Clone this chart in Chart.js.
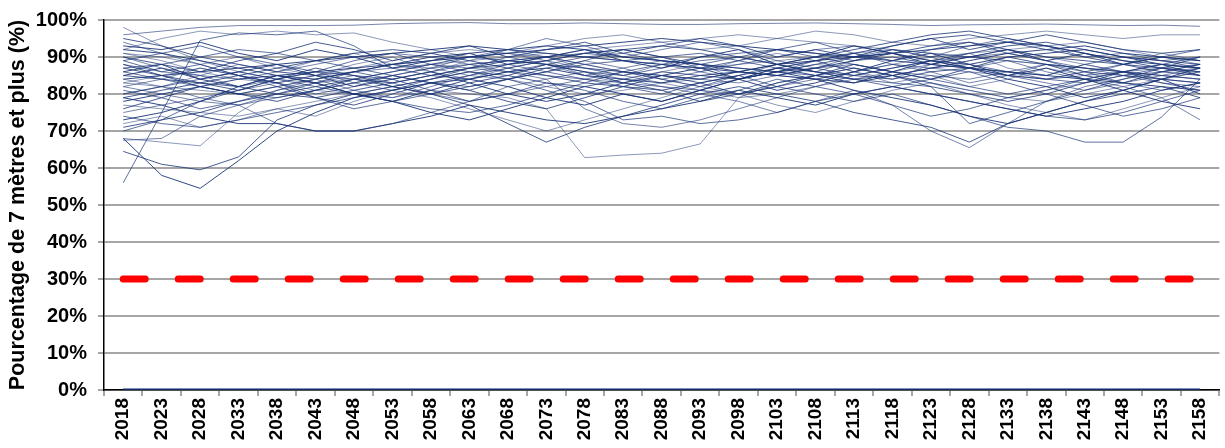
<!DOCTYPE html>
<html>
<head>
<meta charset="utf-8">
<script src="https://cdn.jsdelivr.net/npm/chart.js@4/dist/chart.umd.min.js"></script>
<style>
    html, body{margin:0; padding:0; background:#fff; overflow:hidden;}
    #box{width:1225px; height:450px; position:relative; top:-3px;}
</style>
</head>
<body>
<div id="box"><canvas id="myChart"></canvas></div>
<script>
// annees (pas de 5 ans)
var years = ['2018','2023','2028','2033','2038','2043','2048','2053','2058','2063','2068','2073','2078','2083','2088','2093','2098','2103','2108','2113','2118','2123','2128','2133','2138','2143','2148','2153','2158'];

// seuil 30 % et serie a zero
var seuil = [30,30,30,30,30,30,30,30,30,30,30,30,30,30,30,30,30,30,30,30,30,30,30,30,30,30,30,30,30];
var zero = [0,0,0,0,0,0,0,0,0,0,0,0,0,0,0,0,0,0,0,0,0,0,0,0,0,0,0,0,0];

// simulations (% de 7 metres et plus)
var s01 = [98,93,89,86,84,83,84,86,88,89,90,91,90,89,88,87,88,89,90,91,92,91,90,89,88,87,86,85,84];
var s02 = [96,97,98,98.5,98.5,98.5,98.6,99,99.2,99.3,99,99,99.2,99,98.8,98.8,99,99.1,99.2,99,98.8,98.5,98.7,98.8,98.9,98.7,98.5,98.6,98.3];
var s03 = [56,75,94.5,96.5,96,97,93,87,85,84,86,88,90,91,89,88,90,92,91,89,90,88,87,86,85,88,90,89,87];
var s04 = [64.5,61,59.5,63,73,77,80,82,84,86,85,83,82,84,86,85,84,86,87,85,84,86,87,85,84,86,85,84,83];
var s05 = [68,58,54.5,62,70,75,79,81,83,84,86,87,85,84,83,85,86,88,89,90,91,89,88,90,91,92,90,88,87];
var s06 = [68,67,66,75,81,84,86,88,87,85,84,82,80,81,83,84,86,85,84,86,88,90,91,92,90,88,86,85,84];
var s07 = [67.5,68,74,77,72,70,70,72,75,78,80,82,84,86,85,84,83,85,87,88,86,85,84,86,88,87,86,84,83];
var s08 = [70,73,78,81,84,86,85,84,86,88,89,88,86,85,87,89,90,88,86,84,85,87,88,86,84,83,85,87,86];
var s09 = [95,93,90,88,86,85,84,83,85,87,88,89,91,92,90,88,87,86,88,90,91,93,94,92,90,89,88,87,86];
var s10 = [92,91,89,87,85,84,86,88,90,91,92,93,92,90,89,88,86,85,87,89,91,92,93,94,93,91,89,88,87];
var s11 = [91,89,86,84,83,85,87,89,91,92,91,90,88,86,84,82,84,86,88,87,85,83,81,79,78,80,82,84,86];
var s12 = [88,86,85,84,86,88,90,91,90,88,86,84,76,72,71,73,76,79,82,85,87,89,90,91,89,87,85,83,82];
var s13 = [87,88,90,92,91,89,87,85,83,82,84,86,88,89,90,91,89,87,86,84,82,80,78,76,74,73,75,78,81];
var s14 = [85,84,83,82,80,79,81,83,85,87,89,90,91,92,93,92,90,88,86,85,87,89,91,93,94,92,90,89,88];
var s15 = [84,85,86,87,88,89,90,91,92,93,92,91,90,89,88,87,86,85,84,83,85,87,89,91,92,93,91,90,89];
var s16 = [83,82,81,80,82,84,86,88,89,90,91,89,87,85,83,81,79,80,82,84,86,88,90,92,93,94,92,90,88];
var s17 = [82,80,78,77,79,81,83,85,87,88,89,90,88,86,84,86,88,90,92,93,91,89,87,85,83,81,83,85,87];
var s18 = [80,82,84,86,84,82,80,78,76,75,77,80,83,86,88,90,91,92,90,88,86,84,82,80,82,84,86,88,90];
var s19 = [79,81,83,85,87,89,91,92,91,89,87,85,83,82,81,83,85,87,89,91,93,95,96,94,92,90,88,86,85];
var s20 = [78,80,82,84,85,86,87,88,89,90,91,92,93,94,95,94,93,92,91,90,89,88,87,86,85,84,83,82,81];
var s21 = [77,76,75,74,76,78,80,82,84,86,88,90,92,93,94,95,96,95,94,93,92,91,90,89,88,87,86,85,84];
var s22 = [75,77,79,81,83,85,86,87,88,87,86,85,84,83,82,81,80,82,84,86,88,87,86,85,84,85,86,87,88];
var s23 = [74,72,71,73,75,77,79,81,83,85,87,89,91,90,89,88,87,86,85,84,83,82,72,75,78,81,84,87,90];
var s24 = [71,73,75,78,80,82,84,86,88,90,89,88,87,86,85,84,86,88,90,92,94,96,97,95,93,91,89,87,85];
var s25 = [93,92,94,91,89,92,90,87,89,91,88,90,92,89,87,90,92,88,90,93,91,88,90,92,89,91,88,90,89];
var s26 = [91,90,88,90,87,85,88,90,86,84,87,89,85,83,86,88,84,87,89,86,84,88,91,87,85,88,86,84,86];
var s27 = [90,87,85,82,84,86,83,81,84,87,90,88,85,87,89,86,84,86,89,91,88,86,83,85,88,86,83,81,83];
var s28 = [89,91,93,90,88,86,89,91,88,86,84,87,89,92,90,87,89,92,94,91,89,92,94,91,89,86,88,90,92];
var s29 = [87,85,82,80,82,79,77,80,83,81,78,76,79,82,85,83,80,82,85,88,86,84,87,90,88,85,83,86,88];
var s30 = [86,88,84,82,85,83,80,78,81,84,82,79,77,80,78,81,84,87,85,83,86,89,87,84,82,79,81,84,80];
var s31 = [84,82,85,88,86,89,91,88,86,89,92,90,87,85,88,86,89,91,89,86,83,85,82,84,87,85,88,91,89];
var s32 = [82,84,87,85,83,80,82,85,87,90,92,95,93,90,92,94,92,89,87,90,92,90,93,95,93,90,91,89,90];
var s33 = [81,79,76,78,81,83,86,84,81,78,80,83,81,78,76,79,81,84,82,80,77,74,76,79,81,84,86,83,81];
var s34 = [76,79,82,80,78,81,84,82,80,83,85,88,86,83,81,78,80,83,85,87,85,82,80,78,80,83,86,88,85];
var s35 = [73,75,78,82,85,83,80,78,75,73,76,79,82,80,78,81,84,86,84,81,79,77,74,72,75,78,81,84,87];
var s36 = [72,74,71,73,76,74,78,81,79,76,73,70,73,76,79,82,80,77,75,78,81,83,80,77,75,73,76,79,82];
var s37 = [94,91,88,85,82,84,81,79,82,85,88,86,89,87,84,82,85,88,86,89,92,90,87,89,86,84,82,79,73];
var s38 = [89,86,88,85,83,79,76,78,80,82,84,81,78,73,74,72,73,75,78,80,82,84,86,83,80,77,74,76,79];
var s39 = [90,88,86,89,91,94,92,89,91,93,90,92,94,91,93,95,93,90,92,90,93,95,92,94,96,94,92,91,92];
var s40 = [85,87,84,86,88,85,82,84,86,83,80,78,80,83,85,87,84,81,83,86,89,91,88,85,87,84,81,78,76];
var s41 = [83,85,87,85,83,81,80,79,81,80,79,76,62.8,63.5,64,66.5,79,83,85,87,85,83,81,79,81,83,85,86,88];
var s42 = [80,82,79,77,80,83,85,83,80,78,82,84,86,84,82,80,78,75,78,81,77,70,65.5,72,78,82,84,86,87];
var s43 = [86,84,82,80,79,81,83,85,83,81,84,86,84,82,80,83,85,82,80,78,80,77,74,71,70,67,67,73.8,84];
var s44 = [88,85,83,81,84,87,85,82,80,77,72,67,71,74,77,80,82,80,78,75,73,71,67,72,75,78,80,82,79];
var s45 = [79,77,74,72,72,70,70,72,74,77,75,73,72,74,76,78,81,79,77,80,82,80,78,76,74,76,78,81,83];
var s46 = [92,95,97,96,97,96,96.5,94,92,90,91,93,95,96,94,92,93,95,97,96,94,93,95,96,97,96,95,96,96];

var simulations = [s01,s02,s03,s04,s05,s06,s07,s08,s09,s10,s11,s12,s13,s14,s15,s16,s17,s18,s19,s20,s21,s22,s23,
    s24,s25,s26,s27,s28,s29,s30,s31,s32,s33,s34,s35,s36,s37,s38,s39,s40,s41,s42,s43,s44,s45,s46];

var police = 'Liberation Sans, Arial, sans-serif';

var datasets = [];
// seuil rouge en premier (dessine au-dessus)
datasets.push({
    data: seuil,
    borderColor: '#ff0000',
    borderWidth: 7,
    borderDash: [22, 33],
    borderCapStyle: 'round',
    pointRadius: 0,
    fill: false
});
datasets.push({
    data: zero,
    borderColor: '#0e2a6a',
    borderWidth: 3,
    pointRadius: 0,
    fill: false
});
for (var i = 0, l = simulations.length; i < l; i++) {
    var a = 0.5 + (i % 5) * 0.1;
    datasets.push({
        data: simulations[i],
        borderColor: 'rgba(26,52,118,' + a + ')',
        borderWidth: 1,
        pointRadius: 0,
        tension: 0,
        fill: false
    });
}

new Chart(document.getElementById('myChart').getContext('2d'), {
    type: 'line',
    data: { labels: years, datasets: datasets },
    options: {
        responsive: true,
        maintainAspectRatio: false,
        animation: false,
        events: [],
        layout: { padding: { top: 16, right: 4, left: 0, bottom: 0 } },
        plugins: { legend: { display: false }, tooltip: { enabled: false } },
        scales: {
            x: {
                offset: true,
                grid: {
                    offset: true,
                    drawOnChartArea: false,
                    drawTicks: true,
                    tickLength: 6,
                    color: '#a6a6a6',
                    lineWidth: 2
                },
                border: { color: '#000', width: 1.5 },
                ticks: {
                    autoSkip: false,
                    maxRotation: 90,
                    minRotation: 90,
                    padding: 2,
                    color: '#000',
                    font: { family: police, size: 19, weight: 'bold' }
                },
                afterFit: function(s) { s.height = 57; }
            },
            y: {
                min: 0,
                max: 100,
                grid: {
                    color: '#a6a6a6',
                    lineWidth: 2,
                    tickLength: 6
                },
                border: { color: '#000', width: 1.5 },
                ticks: {
                    stepSize: 10,
                    padding: 11,
                    color: '#000',
                    font: { family: police, size: 20, weight: 'bold' },
                    callback: function(v) { return v + '%'; }
                },
                title: {
                    display: true,
                    text: 'Pourcentage de 7 mètres et plus (%)',
                    color: '#000',
                    padding: { top: 5, bottom: 0 },
                    font: { family: police, size: 21.5, weight: 'bold' }
                },
                afterFit: function(s) { s.width = 104; }
            }
        }
    }
});
</script>
</body>
</html>
